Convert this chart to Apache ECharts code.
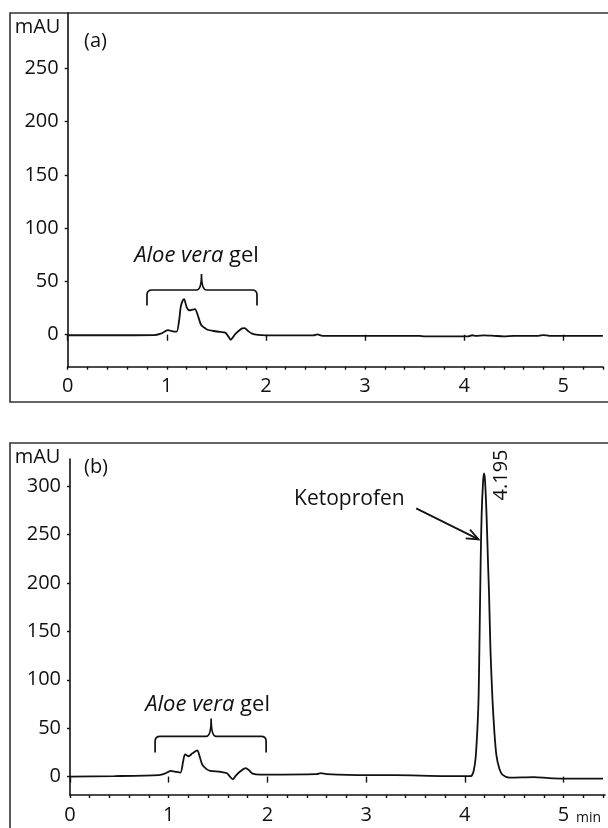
<!DOCTYPE html>
<html>
<head>
<meta charset="utf-8">
<script src="https://cdn.jsdelivr.net/npm/echarts@6/dist/echarts.min.js"></script>
<style>
  html, body { margin: 0; padding: 0; background: #fff; }
  #main { width: 608px; height: 828px; }
</style>
</head>
<body>
<div id="main"></div>
<script>
// chromatogram (a): Aloe vera gel blank
const timeA = [0, 0.5, 0.87, 0.94, 0.98, 1.01, 1.06, 1.1, 1.125, 1.14, 1.16, 1.175, 1.2, 1.23, 1.26, 1.285, 1.31, 1.345, 1.38, 1.41, 1.47, 1.54, 1.59, 1.62, 1.645, 1.67, 1.69, 1.73, 1.76, 1.785, 1.82, 1.86, 1.92, 2.0, 2.48, 2.52, 2.57, 3.0, 3.55, 3.6, 4.04, 4.08, 4.12, 4.2, 4.3, 4.4, 4.5, 4.75, 4.8, 4.86, 5.4];
const signalA = [-0.5, -0.5, -0.4, 1, 3, 4.4, 3.2, 3, 14, 26, 32, 33.4, 26, 22.8, 23.5, 24, 19, 9.4, 6.5, 4.7, 3.5, 2.6, 2, -1.5, -4.7, -2, 0.5, 4, 6, 6.2, 3.5, 1, -0.2, -0.6, -0.5, 0.4, -1, -1, -1, -1.5, -1.5, -0.5, -1, -0.6, -1, -1.5, -1, -1, -0.3, -1, -1];

// chromatogram (b): Aloe vera gel + ketoprofen
const timeB = [0, 0.45, 0.9, 0.96, 1.02, 1.08, 1.12, 1.145, 1.165, 1.2, 1.24, 1.29, 1.31, 1.34, 1.38, 1.42, 1.52, 1.59, 1.62, 1.65, 1.68, 1.72, 1.78, 1.81, 1.85, 1.93, 2.0, 2.5, 2.54, 2.6, 3.0, 3.3, 3.8, 4.05, 4.07, 4.09, 4.11, 4.13, 4.14, 4.15, 4.16, 4.17, 4.185, 4.195, 4.205, 4.22, 4.235, 4.245, 4.26, 4.28, 4.3, 4.32, 4.35, 4.38, 4.45, 4.7, 4.85, 5.0, 5.4];
const signalB = [0, 0.5, 1.5, 3, 6, 4.8, 4.2, 15, 23, 21, 24, 27, 22, 12.3, 8, 6, 5, 3.5, 0, -2.8, 1, 5, 8.8, 7, 3, 2, 2, 2.5, 3.5, 2.5, 1.5, 1.5, 0.5, 0.5, 1, 6, 20, 55, 85, 150, 220, 270, 305, 313, 305, 270, 220, 190, 130, 80, 45, 22, 8, 2, -1, -0.5, -1.5, -2, -2];

const peakTime = 4.195;
const peakName = 'Ketoprofen';
const groupName = 'Aloe vera';

const xMinorTicks = [0, 0.2, 0.4, 0.6, 0.8, 1, 1.2, 1.4, 1.6, 1.8, 2, 2.2, 2.4, 2.6, 2.8, 3, 3.2, 3.4, 3.6, 3.8, 4, 4.2, 4.4, 4.6, 4.8, 5, 5.2, 5.4];
const xLabels = [0, 1, 2, 3, 4, 5];
const yLabelsA = [0, 50, 100, 150, 200, 250];
const yLabelsB = [0, 50, 100, 150, 200, 250, 300];

const FONT = "'Open Sans', 'DejaVu Sans', sans-serif";
const INK = '#111';

const pairs = (xs, ys) => xs.map((x, i) => [x, ys[i]]);

const chart = echarts.init(document.getElementById('main'), null, { renderer: 'canvas' });

const grids = [
  { left: 67.7, top: 13, width: 535.2, height: 353.7 },   // (a)
  { left: 70, top: 459, width: 535, height: 336 },        // (b)
  { left: 67.7, top: 13, width: 535.2, height: 353.7 },   // (a) major ticks
  { left: 70, top: 459, width: 535, height: 336 }         // (b) major ticks
];

const xRange = [[0, 5.4], [0, 5.42]];
const yRange = [[-30, 302], [-19, 328]];

const xAxisMinor = (gi, max) => ({
  type: 'value', gridIndex: gi, min: 0, max: max,
  axisLine: { onZero: false, lineStyle: { color: INK, width: 1.6 } },
  splitLine: { show: false },
  axisTick: { show: true, inside: false, length: 3, customValues: xMinorTicks, lineStyle: { color: INK, width: 1.4 } },
  axisLabel: { customValues: xLabels, color: INK, fontFamily: FONT, fontSize: 20, margin: 10 }
});
const xAxisMajor = (gi, max) => ({
  type: 'value', gridIndex: gi, min: 0, max: max,
  axisLine: { show: false },
  splitLine: { show: false },
  axisTick: { show: true, length: 6, customValues: xLabels, lineStyle: { color: INK, width: 1.4 } },
  axisLabel: { show: false }
});
const yAxisMain = (gi, range, labels) => ({
  type: 'value', gridIndex: gi, min: range[0], max: range[1],
  axisLine: { show: true, onZero: false, lineStyle: { color: INK, width: 1.6 } },
  splitLine: { show: false },
  axisTick: { show: true, length: 3, customValues: labels, lineStyle: { color: INK, width: 1.4 } },
  axisLabel: { customValues: labels, color: INK, fontFamily: FONT, fontSize: 20, margin: 9 }
});
const yAxisHidden = (gi, range) => ({
  type: 'value', gridIndex: gi, min: range[0], max: range[1], show: false
});

// curly brace + label, drawn in data coordinates
const braceSeries = (xi, yi, item) => ({
  type: 'custom', xAxisIndex: xi, yAxisIndex: yi, silent: true, clip: false,
  data: [item],
  encode: { x: [0, 1, 2], y: [3, 4, 5] },
  renderItem: (params, api) => {
    const l = api.coord([api.value(0), api.value(4)]);
    const m = api.coord([api.value(1), api.value(5)]);
    const r = api.coord([api.value(2), api.value(3)]);
    const yH = l[1], yE = r[1], yT = m[1];
    const x1 = l[0], xm = m[0], x2 = r[0];
    const d = `M${x1},${yE} L${x1},${yH + 5} Q${x1},${yH} ${x1 + 5},${yH} L${xm - 5},${yH} Q${xm},${yH} ${xm},${yT}` +
              ` Q${xm},${yH} ${xm + 5},${yH} L${x2 - 5},${yH} Q${x2},${yH} ${x2},${yH + 5} L${x2},${yE}`;
    const t = api.coord([api.value(6), api.value(7)]);
    return {
      type: 'group',
      children: [
        { type: 'path', shape: { pathData: d }, style: { fill: 'none', stroke: INK, lineWidth: 1.7 } },
        {
          type: 'text', x: t[0], y: t[1],
          style: {
            text: '{i|' + groupName + '} gel', align: 'center', verticalAlign: 'middle',
            fill: INK, font: '22px ' + FONT,
            rich: { i: { fontStyle: 'italic', fontFamily: FONT, fontSize: 22, fill: INK } }
          }
        }
      ]
    };
  }
});

const option = {
  animation: false,
  backgroundColor: '#fff',
  grid: grids,
  xAxis: [xAxisMinor(0, xRange[0][1]), xAxisMinor(1, xRange[1][1]), xAxisMajor(2, xRange[0][1]), xAxisMajor(3, xRange[1][1])],
  yAxis: [yAxisMain(0, yRange[0], yLabelsA), yAxisMain(1, yRange[1], yLabelsB), yAxisHidden(2, yRange[0]), yAxisHidden(3, yRange[1])],
  series: [
    {
      type: 'line', xAxisIndex: 0, yAxisIndex: 0, data: pairs(timeA, signalA),
      showSymbol: false, smooth: 0.25, lineStyle: { color: INK, width: 1.8 }
    },
    {
      type: 'line', xAxisIndex: 1, yAxisIndex: 1, data: pairs(timeB, signalB),
      showSymbol: false, smooth: 0.25, lineStyle: { color: INK, width: 1.8 }
    },
    // [x1, xmid, x2, yEnd, yBar, yTip, textX, textY]
    braceSeries(0, 0, [0.80, 1.35, 1.91, 27.5, 42, 57, 1.30, 74]),
    braceSeries(1, 1, [0.862, 1.43, 1.987, 25, 41.5, 60, 1.394, 74]),
    {
      type: 'custom', xAxisIndex: 1, yAxisIndex: 1, silent: true, clip: false,
      data: [[peakTime, 313]],
      renderItem: (params, api) => {
        const s = api.coord([3.507, 277]);
        const e = api.coord([4.14, 245]);
        const ang = Math.atan2(e[1] - s[1], e[0] - s[0]);
        const hl = 13, ha = 0.38;
        const h1 = [e[0] - hl * Math.cos(ang - ha), e[1] - hl * Math.sin(ang - ha)];
        const h2 = [e[0] - hl * Math.cos(ang + ha), e[1] - hl * Math.sin(ang + ha)];
        const kt = api.coord([2.83, 287]);
        const lt = api.coord([api.value(0) + 0.178, api.value(1) - 1.5]);
        return {
          type: 'group',
          children: [
            { type: 'line', shape: { x1: s[0], y1: s[1], x2: e[0], y2: e[1] }, style: { stroke: INK, lineWidth: 1.7 } },
            { type: 'polyline', shape: { points: [h1, e, h2] }, style: { fill: 'none', stroke: INK, lineWidth: 1.7 } },
            { type: 'text', x: kt[0], y: kt[1], style: { text: peakName, align: 'center', verticalAlign: 'middle', fill: INK, font: '21px ' + FONT } },
            { type: 'text', x: lt[0], y: lt[1], rotation: Math.PI / 2, style: { text: peakTime.toFixed(3), align: 'center', verticalAlign: 'middle', fill: INK, font: '20px ' + FONT } }
          ]
        };
      }
    }
  ],
  graphic: [
    { type: 'rect', shape: { x: 10, y: 13, width: 620, height: 389 }, style: { fill: 'none', stroke: '#333', lineWidth: 1.6 }, silent: true },
    { type: 'rect', shape: { x: 10, y: 443, width: 620, height: 420 }, style: { fill: 'none', stroke: '#333', lineWidth: 1.6 }, silent: true },
    { type: 'text', x: 37.5, y: 27.5, style: { text: 'mAU', align: 'center', verticalAlign: 'middle', fill: INK, font: '20px ' + FONT } },
    { type: 'text', x: 37.5, y: 457, style: { text: 'mAU', align: 'center', verticalAlign: 'middle', fill: INK, font: '20px ' + FONT } },
    { type: 'text', x: 95.5, y: 41, style: { text: '(a)', align: 'center', verticalAlign: 'middle', fill: INK, font: '20px ' + FONT } },
    { type: 'text', x: 96, y: 467.5, style: { text: '(b)', align: 'center', verticalAlign: 'middle', fill: INK, font: '20px ' + FONT } },
    { type: 'text', x: 588.5, y: 818, style: { text: 'min', align: 'center', verticalAlign: 'middle', fill: INK, font: '14px ' + FONT } }
  ]
};

chart.setOption(option);
</script>
</body>
</html>
